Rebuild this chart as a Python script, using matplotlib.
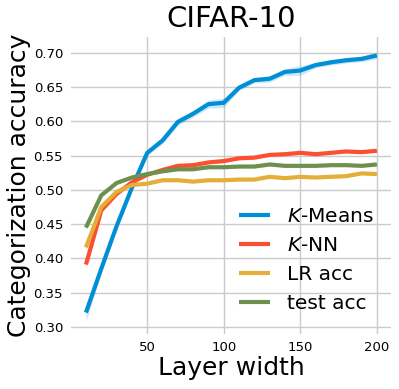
import numpy as np
import matplotlib
matplotlib.use("Agg")
import matplotlib.pyplot as plt

widths = [10, 20, 30, 40, 50, 60, 70, 80, 90, 100, 110, 120, 130, 140, 150, 160, 170, 180, 190, 200]
kmeans = [0.321, 0.385, 0.447, 0.503, 0.554, 0.572, 0.599, 0.611, 0.625, 0.627, 0.649, 0.660, 0.662, 0.672, 0.674,
          0.682, 0.686, 0.689, 0.691, 0.696]
kmeans_std = [0.013, 0.006, 0.004, 0.004, 0.004, 0.005, 0.005, 0.005, 0.006, 0.007, 0.004, 0.004, 0.005, 0.005, 0.007,
              0.004, 0.004, 0.004, 0.004, 0.005]
knn = [0.391, 0.470, 0.494, 0.511, 0.522, 0.529, 0.535, 0.536, 0.540, 0.542, 0.546, 0.547, 0.551, 0.552, 0.554,
       0.552, 0.554, 0.556, 0.555, 0.557]
knn_std = [0.005] + [0.002] * 19
lr_acc = [0.416, 0.475, 0.497, 0.507, 0.509, 0.514, 0.514, 0.512, 0.514, 0.514, 0.515, 0.515, 0.519, 0.517, 0.519,
          0.518, 0.519, 0.520, 0.524, 0.523]
lr_std = [0.002] * 20
test_acc = [0.445, 0.492, 0.510, 0.518, 0.523, 0.527, 0.530, 0.530, 0.533, 0.533, 0.534, 0.534, 0.537, 0.535, 0.535,
            0.535, 0.536, 0.536, 0.535, 0.537]
test_std = [0.002] * 20

series = [
    ("$K$-Means", kmeans, kmeans_std, "#008fd5"),
    ("$K$-NN", knn, knn_std, "#fc4f30"),
    ("LR acc", lr_acc, lr_std, "#e5ae38"),
    ("test acc", test_acc, test_std, "#6d904f"),
]

fig = plt.figure(figsize=(3.99, 3.89), dpi=100)
ax = fig.add_axes([0.179, 0.1406, 0.802, 0.7651])
x = np.array(widths)
for label, vals, std, color in series:
    v = np.array(vals)
    s = np.array(std)
    ax.fill_between(x, v - s, v + s, color=color, alpha=0.2, linewidth=0)
    ax.plot(x, v, color=color, lw=3, label=label, solid_capstyle="butt")

ax.set_ylim(0.2893, 0.7234)
ax.set_xticks([50, 100, 150, 200])
ax.set_yticks([0.30, 0.35, 0.40, 0.45, 0.50, 0.55, 0.60, 0.65, 0.70])
ax.set_yticklabels([f"{t:.2f}" for t in ax.get_yticks()])
ax.grid(True, color="#cbcbcb", lw=1)
ax.set_axisbelow(True)
for sp in ax.spines.values():
    sp.set_visible(False)
ax.tick_params(length=0, labelsize=9.5)
ax.tick_params(axis="y", pad=6)
ax.tick_params(axis="x", pad=4.5)
ax.set_title("CIFAR-10", fontsize=21, pad=7)
ax.set_xlabel("Layer width", fontsize=18, labelpad=2)
ax.set_ylabel("Categorization accuracy", fontsize=18, labelpad=2)
ax.legend(loc="lower right", bbox_to_anchor=(1.0, 0.01), frameon=False, fontsize=14.5,
          handlelength=1.55, labelspacing=0.5, handletextpad=0.8)
fig.savefig("out.png", dpi=100, facecolor="white")
